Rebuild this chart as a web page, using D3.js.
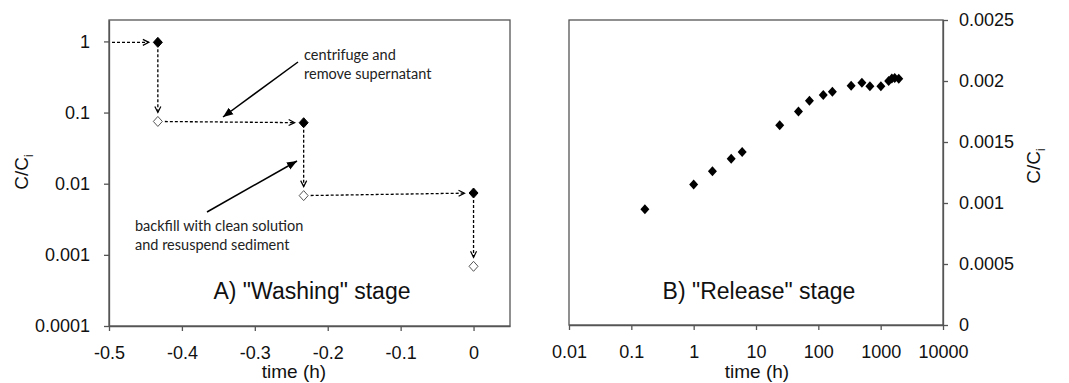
<!DOCTYPE html>
<meta charset="utf-8">
<title>Washing and release</title>
<style>
  body { margin: 0; background: #fff; }
  text { font-family: "Liberation Sans", Arial, sans-serif; }
  .note { font-family: Lato, "Open Sans", sans-serif; font-size: 14.5px; fill: #222; }
</style>
<div id="viz"></div>
<script src="https://cdnjs.cloudflare.com/ajax/libs/d3/7.8.5/d3.min.js"></script>
<script>

var width = 1069;
var height = 383;

// A) washing stage: sequence of samples, arrows go from each one to the next
var washStart = [-0.5, 0.97];
var washTime = [-0.433, -0.433, -0.233, -0.233, 0, 0];
var washC = [0.97, 0.075, 0.072, 0.0068, 0.0074, 0.00069];
var washFilled = [true, false, true, false, true, false];

var washYTicks = [0.0001, 0.001, 0.01, 0.1, 1];
var washYLabels = ["0.0001", "0.001", "0.01", "0.1", "1"];
var washXTicks = [-0.5, -0.4, -0.3, -0.2, -0.1, 0];
var washXLabels = ["-0.5", "-0.4", "-0.3", "-0.2", "-0.1", "0"];

// B) release stage
var relTime = [0.165, 1, 2, 4, 6, 24, 48, 72, 120, 168, 336, 500, 672, 1008, 1344, 1512, 1680, 1950];
var relC = [0.000948, 0.001152, 0.00126, 0.001363, 0.001418, 0.001637, 0.001751, 0.001839,
            0.001885, 0.001912, 0.001962, 0.001986, 0.001956, 0.001956, 0.002, 0.00202, 0.002025, 0.002018];

var relXTicks = [0.01, 0.1, 1, 10, 100, 1000, 10000];
var relXLabels = ["0.01", "0.1", "1", "10", "100", "1000", "10000"];
var relYTicks = [0, 0.0005, 0.001, 0.0015, 0.002, 0.0025];
var relYLabels = ["0", "0.0005", "0.001", "0.0015", "0.002", "0.0025"];

var axisColor = "#555";
var tickFont = 18;
var diamond = "M0,-5 L4.5,0 L0,5 L-4.5,0 Z";

var svg = d3.select("#viz")
  .append("svg")
  .attr("width", width)
  .attr("height", height);

var defs = svg.append("defs");
defs.append("marker")
  .attr("id", "dashHead")
  .attr("markerUnits", "userSpaceOnUse")
  .attr("markerWidth", 10)
  .attr("markerHeight", 10)
  .attr("refX", 7)
  .attr("refY", 4)
  .attr("orient", "auto")
  .append("path")
  .attr("d", "M1,1 L7,4 L1,7")
  .attr("fill", "none")
  .attr("stroke", "#000")
  .attr("stroke-width", 1.2);
defs.append("marker")
  .attr("id", "solidHead")
  .attr("markerUnits", "userSpaceOnUse")
  .attr("markerWidth", 12)
  .attr("markerHeight", 12)
  .attr("refX", 10)
  .attr("refY", 5)
  .attr("orient", "auto")
  .append("path")
  .attr("d", "M0,1 L10,5 L0,9 z")
  .attr("fill", "#000");

function styleAxis(a) {
  a.attr("font-size", tickFont).attr("font-family", "Liberation Sans, Arial, sans-serif");
  a.selectAll("path, line").attr("stroke", axisColor).attr("stroke-width", 1.3);
  a.selectAll("text").attr("font-size", tickFont).attr("fill", "#111");
}

function yLabel(g, x, y) {
  var t = g.append("text")
    .attr("transform", "translate(" + x + "," + y + ") rotate(-90)")
    .attr("text-anchor", "middle")
    .attr("font-size", 19).attr("fill", "#111");
  t.append("tspan").text("C/C");
  t.append("tspan").attr("font-size", 12).attr("dy", 5).text("i");
}

// ---------------- panel A ----------------
var xa = d3.scaleLinear().domain([-0.5, 0.05]).range([109, 510]);
var ya = d3.scaleLog().domain([0.0001, 2]).range([326, 20]);

var ga = svg.append("g");

ga.append("rect")
  .attr("x", xa.range()[0]).attr("y", ya.range()[1])
  .attr("width", xa.range()[1] - xa.range()[0])
  .attr("height", ya.range()[0] - ya.range()[1])
  .attr("fill", "none").attr("stroke", axisColor).attr("stroke-width", 1.3);

ga.append("g")
  .attr("transform", "translate(" + xa.range()[0] + ",0)")
  .call(d3.axisLeft(ya).tickValues(washYTicks)
    .tickFormat(function(d, i) { return washYLabels[i]; })
    .tickSize(5).tickSizeOuter(0).tickPadding(14))
  .call(styleAxis);
ga.append("g")
  .attr("transform", "translate(0," + ya.range()[0] + ")")
  .call(d3.axisBottom(xa).tickValues(washXTicks)
    .tickFormat(function(d, i) { return washXLabels[i]; })
    .tickSize(5).tickSizeOuter(0).tickPadding(15))
  .call(styleAxis);

// dashed arrows between successive samples
var seq = [washStart].concat(washTime.map(function(t, i) { return [t, washC[i]]; }));
var arrows = d3.range(seq.length - 1).map(function(i) { return [seq[i], seq[i + 1], i]; });

ga.selectAll(".wash-arrow")
  .data(arrows)
  .enter().append("line")
  .attr("class", "wash-arrow")
  .each(function(d) {
    var x1 = xa(d[0][0]), y1 = ya(d[0][1]);
    var x2 = xa(d[1][0]), y2 = ya(d[1][1]);
    var dx = x2 - x1, dy = y2 - y1, len = Math.sqrt(dx * dx + dy * dy);
    var s0 = d[2] === 0 ? 3 : 7;
    d3.select(this)
      .attr("x1", x1 + dx / len * s0).attr("y1", y1 + dy / len * s0)
      .attr("x2", x2 - dx / len * 9).attr("y2", y2 - dy / len * 9);
  })
  .attr("stroke", "#000")
  .attr("stroke-width", 1.3)
  .attr("stroke-dasharray", "3,2")
  .attr("marker-end", "url(#dashHead)");

ga.selectAll(".wash-pt")
  .data(washTime.map(function(t, i) { return [t, washC[i], washFilled[i]]; }))
  .enter().append("path")
  .attr("class", "wash-pt")
  .attr("d", diamond)
  .attr("transform", function(d) { return "translate(" + xa(d[0]) + "," + ya(d[1]) + ")"; })
  .attr("fill", function(d) { return d[2] ? "#000" : "#fff"; })
  .attr("stroke", function(d) { return d[2] ? "#000" : "#555"; })
  .attr("stroke-width", 1);

// annotations
ga.append("line")
  .attr("x1", 298).attr("y1", 62).attr("x2", 223).attr("y2", 117)
  .attr("stroke", "#000").attr("stroke-width", 1.5)
  .attr("marker-end", "url(#solidHead)");
ga.append("line")
  .attr("x1", 207).attr("y1", 212).attr("x2", 297).attr("y2", 161)
  .attr("stroke", "#000").attr("stroke-width", 1.5)
  .attr("marker-end", "url(#solidHead)");

var n1 = ga.append("text").attr("class", "note").attr("x", 304).attr("y", 60);
n1.append("tspan").attr("x", 304).text("centrifuge and");
n1.append("tspan").attr("x", 304).attr("dy", 19).text("remove supernatant");
var n2 = ga.append("text").attr("class", "note").attr("x", 135).attr("y", 231);
n2.append("tspan").attr("x", 135).text("backfill with clean solution");
n2.append("tspan").attr("x", 135).attr("dy", 19).text("and resuspend sediment");

ga.append("text")
  .attr("x", 312).attr("y", 299)
  .attr("text-anchor", "middle")
  .attr("font-size", 23)
  .attr("fill", "#111")
  .text("A) \"Washing\" stage");

ga.append("text")
  .attr("x", 294).attr("y", 378)
  .attr("text-anchor", "middle")
  .attr("font-size", 19).attr("fill", "#111")
  .text("time (h)");

yLabel(ga, 28, 172);

// ---------------- panel B ----------------
var xb = d3.scaleLog().domain([0.01, 10000]).range([569, 943]);
var yb = d3.scaleLinear().domain([0, 0.0025]).range([325, 20]);

var gb = svg.append("g");

gb.append("rect")
  .attr("x", xb.range()[0]).attr("y", yb.range()[1])
  .attr("width", xb.range()[1] - xb.range()[0])
  .attr("height", yb.range()[0] - yb.range()[1])
  .attr("fill", "none").attr("stroke", axisColor).attr("stroke-width", 1.3);

gb.append("g")
  .attr("transform", "translate(" + xb.range()[1] + ",0)")
  .call(d3.axisRight(yb).tickValues(relYTicks)
    .tickFormat(function(d, i) { return relYLabels[i]; })
    .tickSize(5).tickSizeOuter(0).tickPadding(11))
  .call(styleAxis);
gb.append("g")
  .attr("transform", "translate(0," + yb.range()[0] + ")")
  .call(d3.axisBottom(xb).tickValues(relXTicks)
    .tickFormat(function(d, i) { return relXLabels[i]; })
    .tickSize(5).tickSizeOuter(0).tickPadding(15))
  .call(styleAxis);

gb.selectAll(".rel-pt")
  .data(relTime.map(function(t, i) { return [t, relC[i]]; }))
  .enter().append("path")
  .attr("class", "rel-pt")
  .attr("d", diamond)
  .attr("transform", function(d) { return "translate(" + xb(d[0]) + "," + yb(d[1]) + ")"; })
  .attr("fill", "#000");

gb.append("text")
  .attr("x", 759).attr("y", 299)
  .attr("text-anchor", "middle")
  .attr("font-size", 23).attr("fill", "#111")
  .text("B) \"Release\" stage");

gb.append("text")
  .attr("x", 757).attr("y", 378)
  .attr("text-anchor", "middle")
  .attr("font-size", 19).attr("fill", "#111")
  .text("time (h)");

yLabel(gb, 1040, 166);

</script>
